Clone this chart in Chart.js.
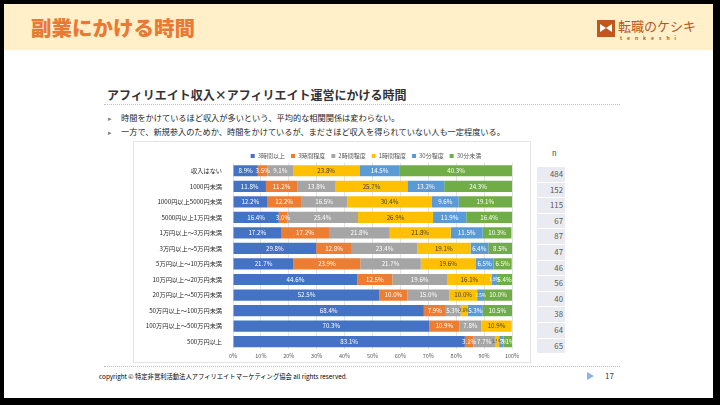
<!DOCTYPE html>
<html>
<head>
<meta charset="utf-8">
<script src="https://cdn.jsdelivr.net/npm/chart.js@4.4.0/dist/chart.umd.min.js"></script>
<style>
  html, body { margin: 0; padding: 0; background: #000; }
  body { width: 720px; height: 405px; position: relative; overflow: hidden; font-family: "Noto Sans CJK JP", "Noto Sans", sans-serif; }
  #slide { position: absolute; left: 4px; top: 4px; width: 709px; height: 394px; background: #fff; }
  #header { position: absolute; left: 0; top: 0; width: 709px; height: 46px; background: #FFF0C9; }
  #title { position: absolute; left: 27px; top: 8px; font-size: 20.5px; font-weight: 900; color: #E87A35; }
  #logo { position: absolute; left: 593px; top: 15px; }
  #logo .icon { position: absolute; left: 0; top: 1px; width: 18px; height: 17px; background: #C0571C; }
  #logo .icon:after { content: ""; position: absolute; left: 3px; top: 4px; height: 0;
    border-left: 6px solid #fff; border-right: 6px solid #fff; border-top: 4.5px solid transparent; border-bottom: 4.5px solid transparent; width: 0; }
  #logo .name { position: absolute; left: 21px; top: -3px; font-size: 13px; color: #B5561F; white-space: nowrap; }
  #logo .sub { position: absolute; left: 23px; top: 15px; font-size: 5px; color: #B5561F; letter-spacing: 5px; white-space: nowrap; font-weight: 700; }
  #subtitle { position: absolute; left: 103px; top: 82px; font-size: 12px; font-weight: 700; color: #333; white-space: nowrap; }
  .dots { position: absolute; left: 100px; width: 516px; border-top: 1px dotted #BFBFBF; }
  .bullet { position: absolute; left: 104px; font-size: 8.2px; color: #262626; white-space: nowrap; }
  .bullet span { display: inline-block; width: 13px; color: #7F7F7F; font-size: 7px; }
  #chartbox { position: absolute; left: 129px; top: 137px; width: 396px; height: 220px; border: 1px solid #E4E4E4; background: #fff; }
  #ncol { position: absolute; left: 533px; top: 137px; width: 30px; }
  #ncol .h { position: absolute; left: 15px; top: 6px; font-size: 7.5px; color: #404040; }
  #ncol .c { position: absolute; left: 0; width: 28px; height: 14.6px; background: #E9EBF0; font-size: 7.8px; color: #595959; text-align: right; line-height: 14.6px; padding-right: 2px; box-sizing: border-box; }
  #footer { position: absolute; left: 95px; top: 368px; font-size: 6.3px; color: #000; white-space: nowrap; }
  #tri { position: absolute; left: 583px; top: 368px; width: 0; height: 0; border-left: 7px solid #8DB4E2; border-top: 4.5px solid transparent; border-bottom: 4.5px solid transparent; }
  #page { position: absolute; left: 601px; top: 366px; font-size: 8px; color: #404040; }
</style>
</head>
<body>
<div id="slide">
  <div id="header">
    <div id="title">副業にかける時間</div>
    <div id="logo"><div class="icon"></div><div class="name">転職のケシキ</div><div class="sub">tenkeshi</div></div>
  </div>
  <div id="subtitle">アフィリエイト収入×アフィリエイト運営にかける時間</div>
  <div class="dots" style="top:100px"></div>
  <div class="bullet" style="top:107px"><span>▸</span>時間をかけているほど収入が多いという、平均的な相関関係は変わらない。</div>
  <div class="bullet" style="top:121px"><span>▸</span>一方で、新規参入のためか、時間をかけているが、まださほど収入を得られていない人も一定程度いる。</div>
  <div id="chartbox"><canvas id="c" width="396" height="220"></canvas></div>
  <div id="ncol"></div>
  <div class="dots" style="top:362px"></div>
  <div id="footer">copyright © 特定非営利活動法人アフィリエイトマーケティング協会 all rights reserved.</div>
  <div id="tri"></div>
  <div id="page">17</div>
</div>
<script>
var categories = ['収入はない', '1000円未満', '1000円以上5000円未満', '5000円以上1万円未満', '1万円以上～3万円未満',
  '3万円以上～5万円未満', '5万円以上～10万円未満', '10万円以上～20万円未満', '20万円以上～50万円未満',
  '50万円以上～100万円未満', '100万円以上～500万円未満', '500万円以上'];
var seriesNames = ['3時間以上', '3時間程度', '2時間程度', '1時間程度', '30分程度', '30分未満'];
var seriesColors = ['#4472C4', '#ED7D31', '#A5A5A5', '#FFC000', '#5B9BD5', '#70AD47'];
var over3h   = [8.9, 11.8, 12.2, 16.4, 17.2, 29.8, 21.7, 44.6, 52.5, 68.4, 70.3, 83.1];
var about3h  = [3.5, 11.2, 12.2, 3.0, 17.2, 12.8, 23.9, 12.5, 10.0, 7.9, 10.9, 3.1];
var about2h  = [9.1, 13.8, 16.5, 25.4, 21.8, 23.4, 21.7, 19.6, 15.0, 5.3, 7.8, 7.7];
var about1h  = [23.8, 25.7, 30.4, 26.9, 21.8, 19.1, 19.6, 16.1, 10.0, 2.6, 10.9, 1.5];
var about30m = [14.5, 13.2, 9.6, 11.9, 11.5, 6.4, 6.5, 1.8, 2.5, 5.3, 0, 1.5];
var under30m = [40.3, 24.3, 19.1, 16.4, 10.3, 8.5, 6.5, 5.4, 10.0, 10.5, 0, 3.1];
var nCounts  = [484, 152, 115, 67, 87, 47, 46, 56, 40, 38, 64, 65];
var xTicks   = ['0%', '10%', '20%', '30%', '40%', '50%', '60%', '70%', '80%', '90%', '100%'];

var allSeries = [over3h, about3h, about2h, about1h, about30m, under30m];

/* ── n column ── */
var ncol = document.getElementById('ncol');
var head = document.createElement('div');
head.className = 'h'; head.textContent = 'n';
ncol.appendChild(head);
nCounts.forEach(function(n, i) {
  var d = document.createElement('div');
  d.className = 'c';
  d.style.top = (26 + i * 15.6) + 'px';
  d.textContent = n;
  ncol.appendChild(d);
});

/* ── value labels inside the bars ── */
var barLabels = {
  id: 'barLabels',
  afterDatasetsDraw: function(chart) {
    var ctx = chart.ctx;
    ctx.save();
    ctx.textAlign = 'center';
    ctx.textBaseline = 'middle';
    chart.data.datasets.forEach(function(ds, di) {
      var meta = chart.getDatasetMeta(di);
      meta.data.forEach(function(bar, i) {
        var v = ds.data[i];
        if (!v) return;
        var p = bar.getCenterPoint();
        ctx.font = (v < 3 ? '4.6px' : '6.2px') + ' "Noto Sans CJK JP", sans-serif';
        ctx.fillStyle = di === 3 ? '#404040' : '#ffffff';
        ctx.fillText(v.toFixed(1) + '%', p.x, p.y);
      });
    });
    ctx.restore();
  }
};

/* ── legend: fixed height, centred a bit to the right like the original ── */
var legendBox = {
  id: 'legendBox',
  beforeInit: function(chart) {
    var fit = chart.legend.fit;
    chart.legend.fit = function() {
      fit.bind(chart.legend)();
      this.height = 16;
    };
  },
  afterLayout: function(chart) {
    chart.legend.left += 86;
  }
};

new Chart(document.getElementById('c'), {
  type: 'bar',
  data: {
    labels: categories,
    datasets: allSeries.map(function(vals, k) {
      return {
        label: seriesNames[k],
        data: vals,
        backgroundColor: seriesColors[k],
        borderWidth: 0,
        barPercentage: 0.72,
        categoryPercentage: 1
      };
    })
  },
  options: {
    indexAxis: 'y',
    responsive: false,
    animation: false,
    layout: { padding: { top: 5, right: 18, bottom: 0, left: 0 } },
    plugins: {
      legend: {
        position: 'top',
        labels: {
          boxWidth: 4, boxHeight: 4, padding: 6,
          color: '#595959',
          font: { size: 6, family: '"Noto Sans CJK JP", sans-serif' }
        }
      },
      tooltip: { enabled: false }
    },
    scales: {
      x: {
        stacked: true,
        min: 0, max: 100,
        grid: { color: '#E3E3E3', drawTicks: false },
        border: { display: false },
        ticks: {
          stepSize: 10, padding: 3,
          color: '#595959',
          font: { size: 5.5, family: '"Noto Sans CJK JP", sans-serif' },
          callback: function(v, i) { return xTicks[i]; }
        }
      },
      y: {
        stacked: true,
        grid: { display: false },
        border: { display: false },
        afterFit: function(scale) { scale.width = 99; },
        ticks: {
          color: '#262626', padding: 3,
          font: { size: 6.2, family: '"Noto Sans CJK JP", sans-serif' }
        }
      }
    }
  },
  plugins: [barLabels, legendBox]
});
</script>
</body>
</html>
